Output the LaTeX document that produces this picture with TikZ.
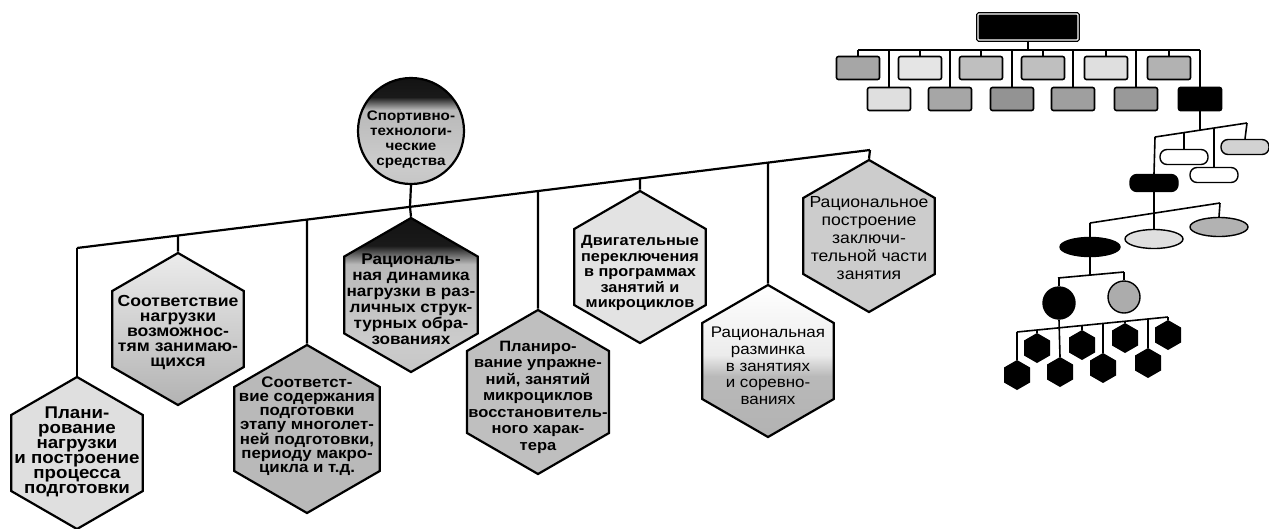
\documentclass[tikz,border=0pt]{standalone}
\usepackage{fontspec}
\setmainfont{Liberation Sans}
\newfontfamily\hexfont[FakeStretch=1.1]{Liberation Sans}
\usetikzlibrary{shapes,calc}

% grey body with a black cap on top
\pgfdeclareverticalshading{capped}{100bp}{color(0bp)=(gray!45); color(25bp)=(gray!45); color(35bp)=(gray!40); color(60bp)=(gray!55); color(66bp)=(black!90); color(100bp)=(black)}
\pgfdeclareverticalshading{halfgrey}{100bp}{color(0bp)=(gray!60); color(25bp)=(gray!60); color(45bp)=(gray!55); color(52bp)=(gray!15); color(75bp)=(white); color(100bp)=(white)}

\begin{document}
\begin{tikzpicture}[
  x=1pt, y=-1pt,
  hexa/.style={regular polygon, regular polygon sides=6, shape border rotate=30, draw, line width=2.2pt, inner sep=0pt, minimum size=152pt},
  hexlabel/.style={align=center, inner sep=0pt, font=\hexfont\bfseries\fontsize{15}{15}\selectfont},
  link/.style={line width=2.2pt},
  twig/.style={line width=1.6pt},
  tile/.style={draw, rounded corners=2pt, line width=1.6pt, minimum width=43pt, minimum height=23pt, inner sep=0pt},
  pill/.style={draw, rounded corners=7pt, line width=1.4pt, minimum width=48pt, minimum height=15pt, inner sep=0pt},
  oval/.style={draw, ellipse, line width=1.4pt, minimum width=58pt, minimum height=19pt, inner sep=0pt},
  ball/.style={draw, circle, line width=1.4pt, minimum size=32pt, inner sep=0pt},
  cell/.style={regular polygon, regular polygon sides=6, shape border rotate=30, fill=black, minimum size=30pt, inner sep=0pt}
]
\useasboundingbox (0,0) rectangle (1269,528);

% root circle
\node[circle, draw, line width=2.2pt, minimum size=106pt, inner sep=0pt, shading=capped] (root) at (411,131) {};
\node[hexlabel, font=\hexfont\bfseries\fontsize{13.8}{15}\selectfont] (rootlabel) at (411,140) {Спортивно-\\технологи-\\ческие\\средства};

% hexagons under the bus
\node[hexa, fill=gray!25] (plan) at (77,453) {};
\node[hexlabel, font=\hexfont\bfseries\fontsize{17}{15}\selectfont] (planlabel) at (77,452) {Плани-\\рование\\нагрузки\\и построение\\процесса\\подготовки};
\node[hexa, top color=gray!15, bottom color=gray!60] (match) at (178,329) {};
\node[hexlabel, font=\hexfont\bfseries\fontsize{16}{15}\selectfont] (matchlabel) at (178,333) {Соответствие\\нагрузки\\возможнос-\\тям занимаю-\\щихся};
\node[hexa, minimum size=168pt, fill=gray!55] (content) at (307,429) {};
\node[hexlabel, font=\hexfont\bfseries\fontsize{15.3}{14}\selectfont] (contentlabel) at (307,426) {Соответст-\\вие содержания\\подготовки\\этапу многолет-\\ней подготовки,\\периоду макро-\\цикла и т.д.};
\node[hexa, minimum size=154pt, shading=capped] (dynamics) at (411,295) {};
\node[hexlabel, font=\hexfont\bfseries\fontsize{15.6}{16}\selectfont] (dynamicslabel) at (411,299) {Рациональ-\\ная динамика\\нагрузки в раз-\\личных струк-\\турных обра-\\зованиях};
\node[hexa, minimum size=164pt, fill=gray!50] (recovery) at (538,392) {};
\node[hexlabel, font=\hexfont\bfseries\fontsize{15}{16.5}\selectfont] (recoverylabel) at (538,397) {Планиро-\\вание упражне-\\ний, занятий\\микроциклов\\восстановитель-\\ного харак-\\тера};
\node[hexa, fill=gray!22] (switching) at (640,267) {};
\node[hexlabel, font=\hexfont\bfseries\fontsize{14.8}{15.5}\selectfont] (switchinglabel) at (640,273) {Двигательные\\переключения\\в программах\\занятий и\\микроциклов};
\node[hexa, shading=halfgrey] (warmup) at (768,361) {};
\node[hexlabel, font=\hexfont\fontsize{15.4}{16.7}\selectfont] (warmuplabel) at (768,366) {Рациональная\\разминка\\в занятиях\\и соревно-\\ваниях};
\node[hexa, fill=gray!40] (cooldown) at (869,236) {};
\node[hexlabel, font=\hexfont\fontsize{16}{18}\selectfont] (cooldownlabel) at (869,238) {Рациональное\\построение\\заключи-\\тельной части\\занятия};

% slanted bus and drops
\coordinate (busL) at (77,248);
\coordinate (busR) at (870,150);
\draw[link] (busL) -- (busR);
\draw[link] (root.south) -- ($(busL)!0.4199!(busR)$);
\foreach \n/\t in {plan/0, match/0.1274, content/0.2900, dynamics/0.4199, recovery/0.5813, switching/0.7100, warmup/0.8714, cooldown/1}
  \draw[link] (\n.north) -- ($(busL)!\t!(busR)$);

% small tree: boxes
\node[draw, fill=black, line width=1.2pt, double=white, double distance=1.2pt, rounded corners=1pt, minimum width=100pt, minimum height=26pt] (head) at (1028,27) {};
\node[tile, fill=gray!70] (r1) at (858,68) {};
\node[tile, fill=gray!20] (r2) at (920,68) {};
\node[tile, fill=gray!50] (r3) at (981,68) {};
\node[tile, fill=gray!50] (r4) at (1043,68) {};
\node[tile, fill=gray!25] (r5) at (1106,68) {};
\node[tile, fill=gray!60] (r6) at (1169,68) {};
\node[tile, fill=gray!25] (q1) at (889,99) {};
\node[tile, fill=gray!70] (q2) at (950,99) {};
\node[tile, fill=gray!85] (q3) at (1012,99) {};
\node[tile, fill=gray!75] (q4) at (1073,99) {};
\node[tile, fill=gray!80] (q5) at (1136,99) {};
\node[tile, fill=black] (q6) at (1200,99) {};
\coordinate (rail) at (858,50);
\draw[twig] (858,50) -- (1200,50);
\draw[twig] (head.south) -- (head.south |- rail);
\foreach \n in {r1,r2,r3,r4,r5,r6,q1,q2,q3,q4,q5,q6}
  \draw[twig] (\n.north) -- (\n.north |- rail);

% pills
\node[pill, fill=black, minimum height=17pt] (pD) at (1154,183) {};
\node[pill, fill=white] (pA) at (1184,157) {};
\node[pill, fill=white] (pB) at (1214,175) {};
\node[pill, fill=gray!35] (pC) at (1245,147) {};
\coordinate (s1) at (1155,137);
\coordinate (s2) at (1247,123);
\draw[twig] (s1) -- (s2);
\draw[twig] (q6.south) -- (1200,130);
\draw[twig] (pD.north) -- (s1);
\draw[twig] (pA.north) -- (1184,133);
\draw[twig] (pB.north) -- (1214,128);
\draw[twig] (pC.north) -- (s2);

% ellipses
\node[oval, fill=black, minimum width=60pt] (eE) at (1090,247) {};
\node[oval, fill=gray!25] (eF) at (1154,239) {};
\node[oval, fill=gray!60] (eG) at (1219,227) {};
\coordinate (s3) at (1090,223);
\coordinate (s4) at (1220,203);
\draw[twig] (s3) -- (s4);
\draw[twig] (pD.south) -- (eF.north);
\draw[twig] (eE.north) -- (s3);
\draw[twig] (eG.north) -- (s4);

% balls
\node[ball, fill=black] (bH) at (1059,303) {};
\node[ball, fill=gray!65] (bI) at (1124,297) {};
\coordinate (s5) at (1058,278);
\coordinate (s6) at (1124,272);
\draw[twig] (s5) -- (s6);
\draw[twig] (eE.south) -- (1090,275);
\draw[twig] (bH.north) -- (bH.north |- s5);
\draw[twig] (bI.north) -- (s6);

% black cells
\node[cell] (u1) at (1037,348) {};
\node[cell] (u2) at (1082,345) {};
\node[cell] (u3) at (1125,338) {};
\node[cell] (u4) at (1168,335) {};
\node[cell] (l1) at (1017,375) {};
\node[cell] (l2) at (1060,372) {};
\node[cell] (l3) at (1103,368) {};
\node[cell] (l4) at (1148,363) {};
\coordinate (s7) at (1017,332);
\coordinate (s8) at (1168,317);
\draw[twig] (s7) -- (s8);
\draw[twig] (bH.south) -- (l2.north);
\draw[twig] (l1.north) -- (s7);
\draw[twig] (l3.north) -- ($(s7)!0.5695!(s8)$);
\draw[twig] (l4.north) -- ($(s7)!0.8675!(s8)$);
\draw[twig] (u1.north) -- ($(s7)!0.1325!(s8)$);
\draw[twig] (u2.north) -- ($(s7)!0.4305!(s8)$);
\draw[twig] (u3.north) -- ($(s7)!0.7152!(s8)$);
\draw[twig] (u4.north) -- (s8);
\end{tikzpicture}
\end{document}
